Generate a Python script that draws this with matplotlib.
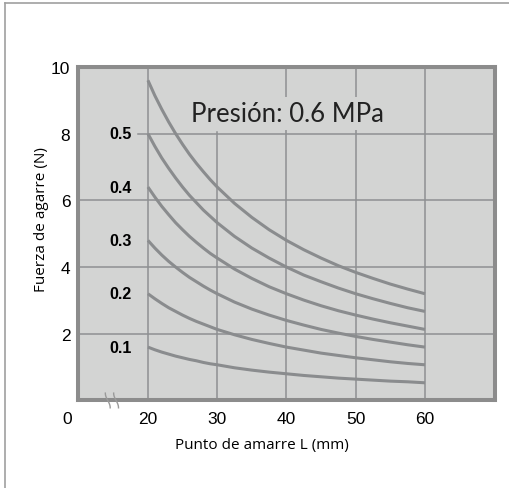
import numpy as np
import matplotlib
matplotlib.use("Agg")
from matplotlib import pyplot as plt
from matplotlib.lines import Line2D

# punto de amarre L (mm)
L = [20, 21, 22, 23, 24, 25, 26, 27, 28, 29, 30, 32.5, 35, 37.5, 40,
     42.5, 45, 47.5, 50, 52.5, 55, 57.5, 60]

# fuerza de agarre (N) por presion (MPa)
f01 = [1.60, 1.52, 1.45, 1.39, 1.33, 1.28, 1.23, 1.19, 1.14, 1.10, 1.07,
       0.98, 0.91, 0.85, 0.80, 0.75, 0.71, 0.67, 0.64, 0.61, 0.58, 0.56, 0.53]
f02 = [3.20, 3.05, 2.91, 2.78, 2.67, 2.56, 2.46, 2.37, 2.29, 2.21, 2.13,
       1.97, 1.83, 1.71, 1.60, 1.51, 1.42, 1.35, 1.28, 1.22, 1.16, 1.11, 1.07]
f03 = [4.80, 4.57, 4.36, 4.17, 4.00, 3.84, 3.69, 3.56, 3.43, 3.31, 3.20,
       2.95, 2.74, 2.56, 2.40, 2.26, 2.13, 2.02, 1.92, 1.83, 1.75, 1.67, 1.60]
f04 = [6.40, 6.10, 5.82, 5.57, 5.33, 5.12, 4.92, 4.74, 4.57, 4.41, 4.27,
       3.94, 3.66, 3.41, 3.20, 3.01, 2.84, 2.69, 2.56, 2.44, 2.33, 2.23, 2.13]
f05 = [8.00, 7.62, 7.27, 6.96, 6.67, 6.40, 6.15, 5.93, 5.71, 5.52, 5.33,
       4.92, 4.57, 4.27, 4.00, 3.76, 3.56, 3.37, 3.20, 3.05, 2.91, 2.78, 2.67]
f06 = [9.60, 9.14, 8.73, 8.35, 8.00, 7.68, 7.38, 7.11, 6.86, 6.62, 6.40,
       5.91, 5.49, 5.12, 4.80, 4.52, 4.27, 4.04, 3.84, 3.66, 3.49, 3.34, 3.20]
curvas = [f01, f02, f03, f04, f05, f06]

etiquetas = ["0.1", "0.2", "0.3", "0.4", "0.5"]
xticks = [20, 30, 40, 50, 60]
yticks = [2, 4, 6, 8, 10]

fondo = "#d3d4d3"
gris = "#8e9092"

fig = plt.figure(figsize=(5.10, 4.89), dpi=100)
ax = fig.add_axes([0.1529, 0.179, 0.8176, 0.682])
ax.set_facecolor(fondo)
ax.set_xlim(9.9, 70.1)
ax.set_ylim(0, 10)

# rejilla (la de 30 queda tapada por el titulo)
for xv in xticks:
    ytop = 8.05 if xv == 30 else 10
    ax.plot([xv, xv], [0, ytop], color=gris, lw=1.1, zorder=1)
for yv in [2, 4, 6]:
    ax.plot([9.9, 70.1], [yv, yv], color=gris, lw=1.1, zorder=1)
ax.plot([18.6, 70.1], [8, 8], color=gris, lw=1.1, zorder=1)

for f in curvas:
    ax.plot(L, f, color="#8a8c8e", lw=2.2, solid_capstyle="butt", zorder=2)

for lab, f in zip(etiquetas, curvas):
    ax.text(16.0, f[0], lab, ha="center", va="center", fontsize=11.5,
            fontweight="bold", family="Liberation Sans", zorder=3)

ax.text(40.2, 8.6, "Presión: 0.6 MPa", ha="center", va="center", fontsize=18.5,
        family="Lato", color="#222222", zorder=3,
        bbox=dict(facecolor=fondo, edgecolor="none", pad=3))

for s in ax.spines.values():
    s.set_color("#8c8c8c")
    s.set_linewidth(2.9)

ax.set_xticks(xticks)
ax.set_yticks(yticks)
ax.tick_params(length=0, labelsize=12.5)
ax.tick_params(axis="x", pad=7.5)
ax.tick_params(axis="y", pad=5.5)
for t in ax.get_xticklabels() + ax.get_yticklabels():
    t.set_family("Liberation Sans")
ax.text(-0.026, -0.031, "0", transform=ax.transAxes, ha="center", va="top",
        fontsize=12.5, family="Liberation Sans")

# marca de corte del eje
t = np.linspace(-1, 1, 20)
for x0 in [14.2, 15.4]:
    ax.plot(x0 + 0.35 * np.sin(t * 1.6), -0.22 * t, color="#9a9a9a", lw=1.0,
            clip_on=False, zorder=4)

fig.text(0.513, 0.088, "Punto de amarre L (mm)", ha="center", va="center",
         fontsize=11, family="Open Sans")
fig.text(0.082, 0.55, "Fuerza de agarre (N)", ha="center", va="center",
         rotation=90, fontsize=11, family="Open Sans")

# marco exterior
fig.add_artist(Line2D([0.010, 1.0], [0.992, 0.992], color="#a0a0a0", lw=1.2))
fig.add_artist(Line2D([0.010, 0.010], [0.0, 0.992], color="#a0a0a0", lw=1.2))

fig.savefig("out.png", dpi=100)
